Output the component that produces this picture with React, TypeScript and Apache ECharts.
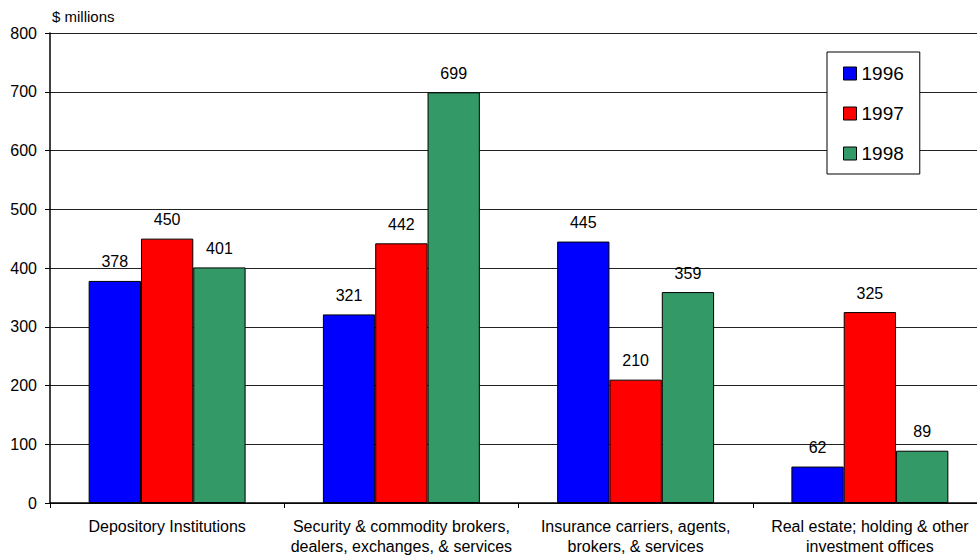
import React, { useEffect, useRef } from "react";
import * as echarts from "echarts";

const categories = [
  "Depository Institutions",
  "Security & commodity brokers,\ndealers, exchanges, & services",
  "Insurance carriers, agents,\nbrokers, & services",
  "Real estate; holding & other\ninvestment offices",
];
const seriesNames = ["1996", "1997", "1998"];
const values1996 = [378, 321, 445, 62];
const values1997 = [450, 442, 210, 325];
const values1998 = [401, 699, 359, 89];
const colors = ["#0000FF", "#FF0000", "#339966"];
const yTicks = { min: 0, max: 800, interval: 100 };
const yName = "$ millions";

const FONT = "'Liberation Sans', Arial, sans-serif";

export default function App() {
  const ref = useRef<HTMLDivElement>(null);
  useEffect(() => {
    if (!ref.current) return;
    const chart = echarts.init(ref.current, undefined, { renderer: "svg" });
    const all = [values1996, values1997, values1998];
    chart.setOption({
      animation: false,
      backgroundColor: "#fff",
      textStyle: { fontFamily: FONT },
      grid: { left: 50, top: 33, width: 937, height: 470 },
      legend: {
        orient: "vertical",
        left: 827,
        top: 52,
        backgroundColor: "#fff",
        borderColor: "#000",
        borderWidth: 1,
        padding: [12, 16, 11, 16],
        itemGap: 21,
        itemWidth: 13,
        itemHeight: 13,
        icon: "rect",
        textStyle: { fontSize: 19, color: "#000", fontFamily: FONT },
        itemStyle: { borderColor: "#000", borderWidth: 1 },
        data: seriesNames,
      },
      xAxis: {
        type: "category",
        data: categories,
        axisLine: { lineStyle: { color: "#000", width: 1.5 } },
        axisTick: { show: true, length: 5, lineStyle: { color: "#000" } },
        axisLabel: {
          interval: 0,
          margin: 13,
          fontSize: 16,
          lineHeight: 20,
          color: "#000",
          fontFamily: FONT,
        },
      },
      yAxis: {
        type: "value",
        min: yTicks.min,
        max: yTicks.max,
        interval: yTicks.interval,
        name: yName,
        nameLocation: "end",
        nameGap: 17,
        nameTextStyle: {
          align: "left",
          verticalAlign: "middle",
          fontSize: 15,
          color: "#000",
          padding: [0, 0, 0, 2],
          fontFamily: FONT,
        },
        axisLine: { show: true, lineStyle: { color: "#000", width: 1.5 } },
        axisTick: { show: true, length: 5, lineStyle: { color: "#000" } },
        axisLabel: { margin: 13, fontSize: 16, color: "#000", fontFamily: FONT },
        splitLine: { show: true, lineStyle: { color: "#222", width: 1 } },
      },
      series: seriesNames.map((name, i) => ({
        name,
        type: "bar",
        data: all[i],
        barGap: "0%",
        barCategoryGap: "33%",
        itemStyle: { color: colors[i], borderColor: "#000", borderWidth: 1 },
        label: {
          show: true,
          position: "top",
          distance: 11,
          fontSize: 16,
          color: "#000",
          fontFamily: FONT,
        },
      })),
    });
    return () => chart.dispose();
  }, []);
  return (
    <div
      style={{
        position: "fixed",
        left: 0,
        top: 0,
        width: 977,
        height: 556,
        overflow: "hidden",
        background: "#fff",
      }}
    >
      <div ref={ref} style={{ width: 1000, height: 556 }} />
    </div>
  );
}
